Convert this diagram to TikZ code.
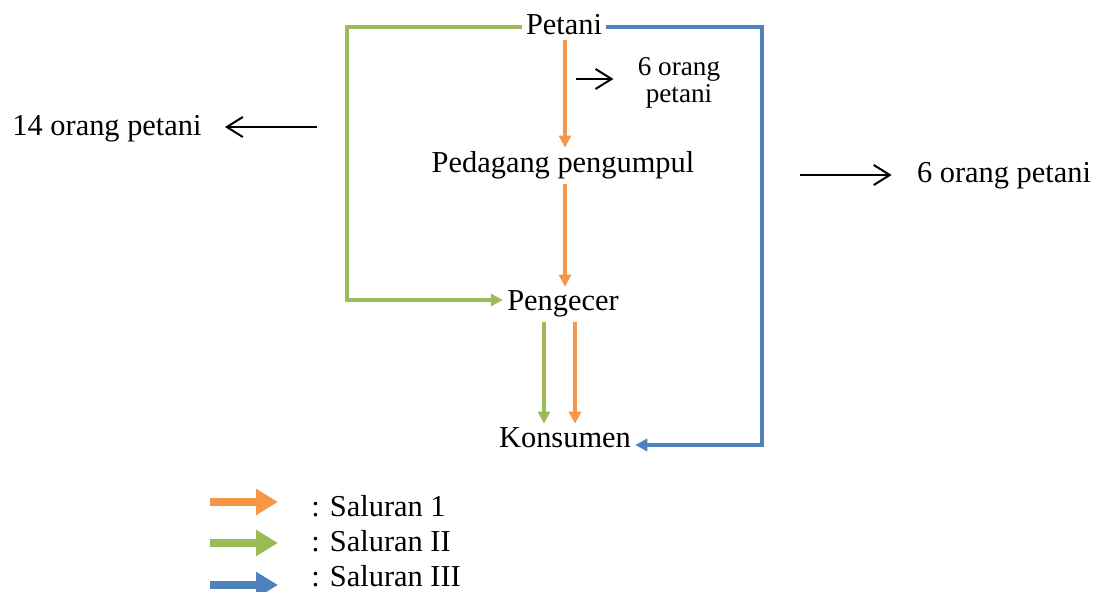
\documentclass[tikz,border=0pt]{standalone}
\usepackage{fontspec}
\setmainfont{Liberation Serif}
\usetikzlibrary{arrows.meta,positioning}
\definecolor{chorange}{RGB}{247,150,70}
\definecolor{chgreen}{RGB}{155,187,89}
\definecolor{chblue}{RGB}{79,129,189}

\begin{document}
\begin{tikzpicture}[x=0.5pt,y=-0.5pt,>={Triangle[length=6pt,width=6pt]},
    actor/.style={anchor=base,inner sep=2pt,font=\fontsize{15.2}{17}\selectfont},
    count/.style={inner sep=2pt,font=\fontsize{15.2}{17}\selectfont},
    flow/.style={line width=1.7pt,->},
    note/.style={black,line width=1pt,-{Straight Barb[length=8pt,width=10pt]}},
    key/.style={line width=4pt,-{Triangle[length=11pt,width=12.5pt]}}]
    \useasboundingbox (0,0) rectangle (1098,592);
    % channel members
    \node[actor] (P) at (564,35) {Petani};
    \node[actor] (D) at (563,173) {Pedagang pengumpul};
    \node[actor] (R) at (563,311) {Pengecer};
    \node[actor] (K) at (565,448) {Konsumen};
    % corners of the outer channels
    \coordinate (gtop) at (347,27);
    \coordinate (gbot) at (347,300);
    \coordinate (btop) at (762,27);
    \coordinate (bbot) at (762,445);
    % saluran 1
    \draw[flow,chorange] (P.south) ++(1,0) coordinate (o1) -- (o1 |- D.north);
    \draw[flow,chorange] (D.south) ++(2,0) coordinate (o2) -- (o2 |- R.north);
    \draw[flow,chorange] ([xshift=6pt]R.south) -- ([xshift=6pt]R.south |- K.north);
    % saluran II
    \draw[flow,chgreen] (P.west |- gtop) -- (gtop) -- (gbot) -- (R.west |- gbot);
    \draw[flow,chgreen] ([xshift=-9.5pt]R.south) -- ([xshift=-9.5pt]R.south |- K.north);
    % saluran III
    \draw[flow,chblue] (P.east |- btop) -- (btop) -- (bbot) -- (K.east |- bbot);
    % number of farmers
    \node[count,anchor=base] (n14) at (107,136) {14 orang petani};
    \node[count,anchor=base] (n6r) at (1004,183) {6 orang petani};
    \node[count,anchor=north,align=center,inner sep=1pt,
          font=\fontsize{13.6}{13.6}\selectfont] (n6s) at (679,55) {6 orang\\petani};
    \coordinate (a14) at (317,127);
    \coordinate (a6r) at (800,175);
    \coordinate (a6s) at (576,79);
    \draw[note] (a14) -- (a14 -| n14.east) [shorten >=9.5pt];
    \draw[note] (a6r) -- (a6r -| n6r.west) [shorten >=10.5pt];
    \draw[note] (a6s) -- (a6s -| n6s.west) [shorten >=11pt];
    % legend
    \foreach \col/\lab/\ay/\ty in {chorange/1/502/517,chgreen/II/543/552,chblue/III/585/587}{
        \coordinate (ks\lab) at (210,\ay);
        \coordinate (ke\lab) at (278,\ay);
        \draw[key,\col] (ks\lab) -- (ke\lab);
        \node[count,anchor=base west,inner sep=0pt] (kt\lab) at (311,\ty) {: Saluran \lab};
    }
\end{tikzpicture}
\end{document}
